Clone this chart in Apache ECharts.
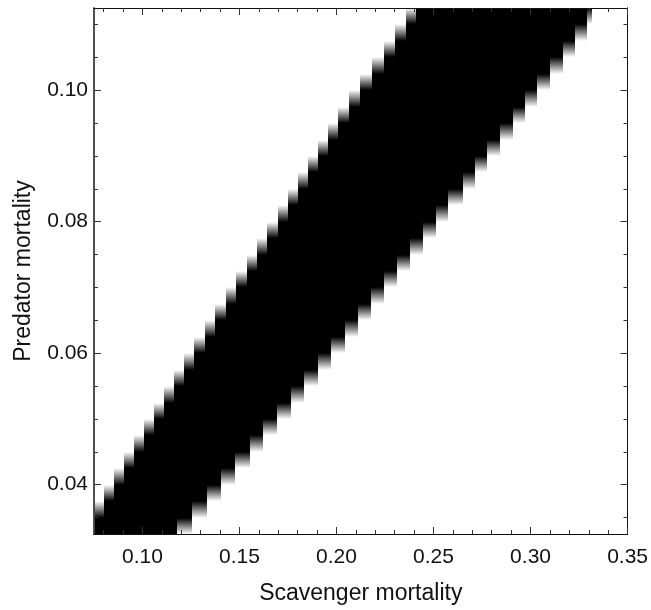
<!DOCTYPE html>
<html><head><meta charset="utf-8">
<script src="https://cdn.jsdelivr.net/npm/echarts@6/dist/echarts.min.js"></script>
<style>html,body{margin:0;padding:0;background:#fff}#c{width:651px;height:610px}</style>
</head><body><div id="c"></div>
<script>
// Row lines of the sampled region (predator mortality)
const rowY = [0.0325,0.0350,0.0375,0.0400,0.0425,0.0450,0.0475,0.0500,0.0525,0.0550,0.0575,
  0.0600,0.0625,0.0650,0.0675,0.0700,0.0725,0.0750,0.0775,0.0800,0.0825,0.0850,0.0875,
  0.0900,0.0925,0.0950,0.0975,0.1000,0.1025,0.1050,0.1075,0.1100,0.1125];
// Left (upper) boundary of the black band on each row (scavenger mortality)
const leftX = [0.0700,0.0750,0.0801,0.0853,0.0904,0.0956,0.1007,0.1059,0.1110,0.1162,0.1213,
  0.1265,0.1322,0.1373,0.1430,0.1481,0.1538,0.1589,0.1641,0.1698,0.1749,0.1801,0.1852,
  0.1904,0.1955,0.2007,0.2063,0.2120,0.2182,0.2243,0.2300,0.2357,0.2408];
// Right (lower) boundary of the black band on each row
const rightX = [0.1177,0.1255,0.1332,0.1404,0.1476,0.1553,0.1620,0.1692,0.1765,0.1831,0.1904,
  0.1971,0.2043,0.2110,0.2177,0.2243,0.2310,0.2377,0.2444,0.2511,0.2573,0.2650,0.2712,
  0.2774,0.2841,0.2908,0.2970,0.3031,0.3098,0.3165,0.3227,0.3289,0.3315];
const xMajor = [0.10,0.15,0.20,0.25,0.30,0.35];
const xMinor = [0.08,0.09,0.10,0.11,0.12,0.13,0.14,0.15,0.16,0.17,0.18,0.19,0.20,0.21,0.22,
  0.23,0.24,0.25,0.26,0.27,0.28,0.29,0.30,0.31,0.32,0.33,0.34,0.35];
const yMajor = [0.04,0.06,0.08,0.10];
const yMinor = [0.035,0.040,0.045,0.050,0.055,0.060,0.065,0.070,0.075,0.080,0.085,0.090,
  0.095,0.100,0.105,0.110];

const X_MIN = 0.075, X_MAX = 0.35, Y_MIN = 0.0325, Y_MAX = 0.1125;
const FONT = '"Liberation Sans", Arial, sans-serif';

const cells = [];
for (let j = 0; j + 1 < rowY.length; j++) {
  cells.push([rowY[j], rowY[j+1], leftX[j], leftX[j+1], rightX[j], rightX[j+1]]);
}

function xAx(pos, vals, len, labels, extra) {
  return Object.assign({
    type: 'value', min: X_MIN, max: X_MAX, position: pos, z: 5,
    axisLine: {show: true, onZero: false, lineStyle: {color: '#111', width: 1}},
    axisTick: {show: true, inside: true, length: len, customValues: vals, lineStyle: {color: '#333', width: 1}},
    axisLabel: labels ? {show: true, customValues: xMajor, formatter: v => v.toFixed(2),
      fontSize: 21, color: '#111', fontFamily: FONT, margin: 13} : {show: false},
    splitLine: {show: false}
  }, extra || {});
}
function yAx(pos, vals, len, labels, extra) {
  return Object.assign({
    type: 'value', min: Y_MIN, max: Y_MAX, position: pos, z: 5,
    axisLine: {show: true, onZero: false, lineStyle: {color: pos === 'left' ? '#444' : '#111', width: pos === 'left' ? 1.5 : 1}},
    axisTick: {show: true, inside: true, length: len, customValues: vals, lineStyle: {color: '#333', width: 1}},
    axisLabel: labels ? {show: true, customValues: yMajor, formatter: v => v.toFixed(2),
      fontSize: 21, color: '#111', fontFamily: FONT, margin: 6} : {show: false},
    splitLine: {show: false}
  }, extra || {});
}

function px(v) { return Math.round(v); }

const chart = echarts.init(document.getElementById('c'), null, {renderer: 'canvas'});
chart.setOption({
  backgroundColor: '#fff',
  animation: false,
  grid: {left: 94, top: 8, width: 534, height: 534, containLabel: false},
  xAxis: [
    xAx('bottom', xMajor, 7, true, {name: 'Scavenger mortality', nameLocation: 'middle', nameGap: 48,
      nameTextStyle: {fontSize: 23, color: '#111', fontFamily: FONT}}),
    xAx('bottom', xMinor, 4, false),
    xAx('top', xMajor, 7, false),
    xAx('top', xMinor, 4, false)
  ],
  yAxis: [
    yAx('left', yMajor, 7, true, {name: 'Predator mortality', nameLocation: 'middle', nameGap: 59,
      nameRotate: 90, nameTextStyle: {fontSize: 23, color: '#111', fontFamily: FONT}}),
    yAx('left', yMinor, 4, false),
    yAx('right', yMajor, 7, false),
    yAx('right', yMinor, 4, false)
  ],
  series: [{
    type: 'custom',
    coordinateSystem: 'cartesian2d',
    xAxisIndex: 0, yAxisIndex: 0,
    z: 1,
    clip: true,
    data: cells,
    renderItem: function (params, api) {
      const cs = params.coordSys;
      const clipR = {x: cs.x, y: cs.y, width: cs.width, height: cs.height};
      const yb = px(api.coord([X_MIN, api.value(0)])[1]);
      const yt = px(api.coord([X_MIN, api.value(1)])[1]);
      const xs = v => px(api.coord([v, Y_MIN])[0]);
      const l0 = xs(api.value(2)), l1 = xs(api.value(3));
      const r0 = xs(api.value(4)), r1 = xs(api.value(5));
      const children = [];
      function add(xa, xb, fill) {
        if (xb <= xa) return;
        const shape = echarts.graphic.clipRectByRect({x: xa, y: yt, width: xb - xa, height: yb - yt}, clipR);
        if (!shape) return;
        children.push({type: 'rect', shape: shape, style: {fill: fill}});
      }
      add(Math.max(l0, l1), Math.min(r0, r1), '#000');
      // upper-left edge: bottom row inside band, top row outside
      add(Math.min(l0, l1), Math.max(l0, l1), new echarts.graphic.LinearGradient(0, 0, 0, 1,
        l1 > l0 ? [{offset: 0, color: '#fff'}, {offset: 1, color: '#000'}]
                : [{offset: 0, color: '#000'}, {offset: 1, color: '#fff'}]));
      // lower-right edge: top row inside band, bottom row outside
      add(Math.min(r0, r1), Math.max(r0, r1), new echarts.graphic.LinearGradient(0, 0, 0, 1,
        r1 > r0 ? [{offset: 0, color: '#000'}, {offset: 1, color: '#fff'}]
                : [{offset: 0, color: '#fff'}, {offset: 1, color: '#000'}]));
      return {type: 'group', children: children};
    }
  }]
});
</script>
</body></html>
